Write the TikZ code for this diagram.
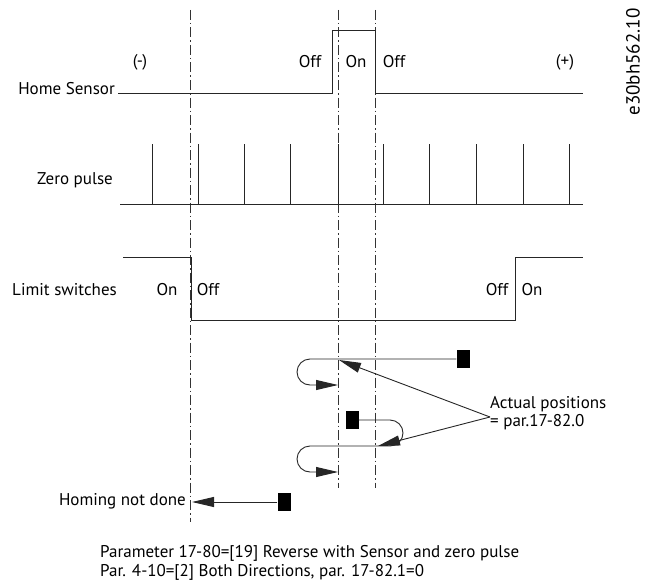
\documentclass[tikz,border=0pt]{standalone}
\usepackage{fontspec}
\setmainfont{PT Sans}
\usetikzlibrary{arrows.meta}
\begin{document}
\begin{tikzpicture}[x=1pt,y=-1pt,
  sig/.style={draw=black!85, line width=0.9pt},
  guide/.style={draw=black!80, line width=0.8pt, dash pattern=on 10pt off 3pt on 1.5pt off 3pt},
  lbl/.style={font=\fontsize{17}{19}\selectfont, inner sep=0pt},
  blk/.style={fill=black, minimum width=13pt, minimum height=18pt, inner sep=0pt},
  arr/.style={-{Triangle[length=22pt,width=10pt]}, line width=0.9pt, draw=black!85}]
\useasboundingbox (0,0) rectangle (648,586);

% guide lines
\draw[guide] (190,10) -- (190,522);
\draw[guide] (338,10) -- (338,488);
\draw[guide] (375,10) -- (375,488);

% Home sensor
\node[lbl, anchor=east] (hs) at (115,89) {Home Sensor};
\draw[sig] (118,93) -- (332,93) -- (332,30) -- (375,30) -- (375,93) -- (583,93);
\node[lbl] (hm) at (140,62) {(-)};
\node[lbl] (hoff1) at (310,62) {Off};
\node[lbl] (hon) at (356,62) {On};
\node[lbl] (hoff2) at (394,62) {Off};
\node[lbl] (hp) at (565,62) {(+)};

% Zero pulse
\node[lbl, anchor=east] (zp) at (113,180) {Zero pulse};
\draw[sig] (120,204) -- (583,204);
\foreach \x in {152,198,244,290,338,383,429,476,523,569}
  \draw[sig] (\x,144) -- (\x,204);

% Limit switches
\node[lbl, anchor=east] (ls) at (117,290) {Limit switches};
\draw[sig] (123,257) -- (191,257) -- (191,320) -- (515,320) -- (515,257) -- (583,257);
\node[lbl] (lon1) at (167,290) {On};
\node[lbl] (loff1) at (208,290) {Off};
\node[lbl] (loff2) at (497,290) {Off};
\node[lbl] (lon2) at (532,290) {On};

% moves
\node[blk] (b1) at (463,359) {};
\coordinate (t1) at (338,385);
\draw[arr] (b1.west) -- (310,359) arc[start angle=270,end angle=90,radius=13] -- (t1);

\node[blk] (b2) at (352,420) {};
\coordinate (t2) at (338,472);
\draw[arr] (b2.east) -- (390,420) arc[start angle=270,end angle=450,radius=13] -- (310,446) arc[start angle=270,end angle=90,radius=13] -- (t2);

% annotation
\node[lbl, anchor=west] (ap1) at (490,404) {Actual positions};
\node[lbl, anchor=west] (ap2) at (490,422) {= par.17-82.0};
\coordinate (apt) at (490,417);
\coordinate (p1) at (339,360);
\coordinate (p2) at (378,446);
\draw[arr] (apt) -- (p1);
\draw[arr] (apt) -- (p2);

% homing not done
\node[lbl, anchor=east] (hnd) at (186,501) {Homing not done};
\node[blk] (b3) at (284,502) {};
\coordinate (t3) at (192,502);
\draw[arr] (b3.west) -- (t3);

% caption
\node[lbl, anchor=west] (c1) at (100,553) {Parameter 17-80=[19] Reverse with Sensor and zero pulse};
\node[lbl, anchor=west] (c2) at (100,572) {Par. 4-10=[2] Both Directions, par. 17-82.1=0};

% id
\node[lbl, font=\fontsize{19}{21}\selectfont, rotate=90] (id) at (633,62) {e30bh562.10};
\end{tikzpicture}
\end{document}
